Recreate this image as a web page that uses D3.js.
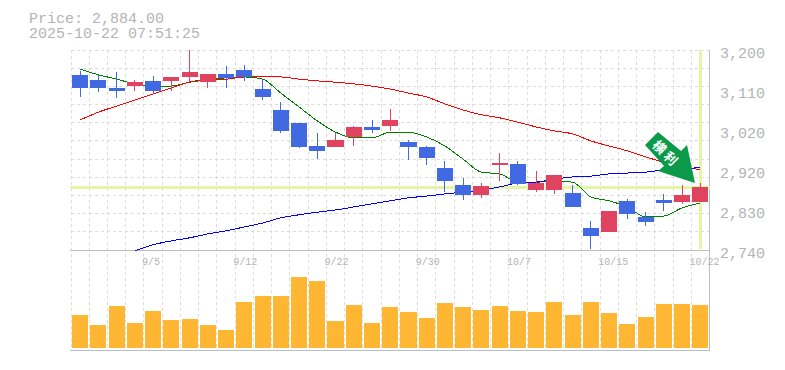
<!DOCTYPE html>
<html>
<head>
<meta charset="utf-8">
<script src="https://cdn.jsdelivr.net/npm/d3@7"></script>
<style>
  html, body { margin: 0; padding: 0; background: #fff; }
  svg { display: block; }
  text { font-family: "Liberation Mono", monospace; fill: #b4b4b4; }
</style>
</head>
<body>
<svg id="chart"></svg>
<script>
const dates = ["9/1","9/2","9/3","9/4","9/5","9/8","9/9","9/10","9/11","9/12","9/16","9/17","9/18","9/19","9/22","9/24","9/25","9/26","9/29","9/30","10/1","10/2","10/3","10/6","10/7","10/8","10/9","10/10","10/14","10/15","10/16","10/17","10/20","10/21","10/22"];
const priceTicks = [3200,3110,3020,2920,2830,2740];

const open  = [3143,3131,3113,3117,3129,3129,3138,3126,3145,3154,3110,3062,3032,2979,2977,3000,3023,3025,2988,2977,2929,2890,2867,2936,2938,2878,2878,2871,2791,2781,2853,2816,2855,2850,2850];
const close = [3113,3113,3106,3126,3106,3138,3149,3145,3136,3138,3092,3014,2977,2968,2994,3023,3016,3039,2977,2952,2899,2867,2887,2940,2892,2894,2913,2839,2772,2830,2823,2804,2848,2867,2884];
const high  = [3152,3143,3149,3131,3140,3138,3200,3145,3163,3166,3131,3080,3032,3009,3009,3025,3039,3064,2993,2979,2945,2906,2894,2963,2945,2922,2913,2890,2807,2830,2857,2827,2869,2890,2894];
const low   = [3092,3103,3090,3106,3101,3106,3126,3113,3113,3129,3085,3009,2975,2949,2977,2979,3009,3014,2947,2936,2873,2855,2860,2899,2890,2873,2869,2839,2742,2781,2811,2795,2830,2846,2850];

const maShort = [3156,3143,3133,3122,3117,3117,3126,3131,3136,3138,3133,3101,3069,3037,3011,2998,2998,3011,3011,3000,2979,2949,2919,2915,2896,2896,2899,2896,2862,2853,2839,2816,2818,2837,2848];
const maMid   = [3039,3057,3071,3085,3099,3113,3126,3133,3133,3138,3138,3138,3133,3129,3126,3122,3117,3110,3101,3092,3076,3062,3051,3044,3034,3023,3014,3007,2991,2979,2968,2954,2942,2933,2924];
const maLong  = [null,null,null,2738,2752,2761,2768,2777,2784,2793,2802,2814,2821,2827,2832,2839,2846,2853,2860,2864,2869,2873,2878,2885,2894,2896,2903,2908,2910,2915,2917,2919,2924,2926,2930];

const volume = [33,23,42,25,37,28,29,23,18,46,52,52,71,67,27,43,25,41,36,30,45,41,38,42,37,36,46,33,46,35,24,31,44,44,43];

const lastPrice = 2884;
const headerLines = ["Price: 2,884.00","2025-10-22 07:51:25"];

const WIDTH = 785, HEIGHT = 370;
const LEFT = 71, RIGHT = 709.5, TOP = 50, PRICE_BOTTOM = 250, VOL_BOTTOM = 348, AXIS_BOTTOM = 350;

const svg = d3.select("#chart").attr("width", WIDTH).attr("height", HEIGHT);

const x = d3.scaleBand().domain(d3.range(dates.length)).range([LEFT, RIGHT]).paddingInner(0.12).paddingOuter(0.06);
const xc = (i) => x(i) + x.bandwidth() / 2;
const y = d3.scaleLinear().domain([2740, 3200]).range([PRICE_BOTTOM, TOP]);
const yVol = d3.scaleLinear().domain([0, d3.max(volume)]).range([VOL_BOTTOM, VOL_BOTTOM - 71]);
// tick labels are rounded and evenly spaced on the axis
const yTick = d3.scalePoint().domain(priceTicks).range([TOP, PRICE_BOTTOM]);

// dashed grid, vertical lines sit between the candles
const grid = svg.append("g").attr("stroke", "#dcdcdc").attr("stroke-dasharray", "3,3").attr("shape-rendering", "crispEdges");
grid.selectAll(".v").data(d3.range(dates.length)).join("line")
  .attr("x1", (i) => xc(i) - x.step() / 2).attr("x2", (i) => xc(i) - x.step() / 2)
  .attr("y1", TOP).attr("y2", AXIS_BOTTOM);
grid.selectAll(".h").data(d3.range(12)).join("line")
  .attr("x1", LEFT).attr("x2", RIGHT)
  .attr("y1", (i) => TOP + i * (PRICE_BOTTOM - TOP) / 11)
  .attr("y2", (i) => TOP + i * (PRICE_BOTTOM - TOP) / 11);

// volume
svg.append("g").selectAll("rect").data(volume).join("rect")
  .attr("x", (d, i) => x(i)).attr("width", x.bandwidth())
  .attr("y", (d) => yVol(d)).attr("height", (d) => VOL_BOTTOM - yVol(d))
  .attr("fill", "#ffb733").attr("shape-rendering", "crispEdges");

// frame
const frame = svg.append("g").attr("stroke", "#bdbdbd").attr("shape-rendering", "crispEdges");
frame.append("line").attr("x1", LEFT - 1).attr("x2", RIGHT).attr("y1", PRICE_BOTTOM + 0.5).attr("y2", PRICE_BOTTOM + 0.5);
frame.append("line").attr("x1", LEFT - 1).attr("x2", RIGHT).attr("y1", AXIS_BOTTOM + 0.5).attr("y2", AXIS_BOTTOM + 0.5);
frame.append("line").attr("x1", RIGHT).attr("x2", RIGHT).attr("y1", TOP).attr("y2", AXIS_BOTTOM + 1);

// crosshair on the last candle
const cross = svg.append("g").attr("stroke", "#e4f5a6").attr("stroke-width", 3).attr("shape-rendering", "crispEdges");
cross.append("line").attr("x1", LEFT - 1).attr("x2", RIGHT).attr("y1", y(lastPrice)).attr("y2", y(lastPrice));
cross.append("line").attr("x1", xc(34)).attr("x2", xc(34)).attr("y1", TOP).attr("y2", PRICE_BOTTOM - 1);

// moving averages
const maLine = d3.line().defined((d) => d !== null).x((d, i) => xc(i)).y((d) => y(d)).curve(d3.curveMonotoneX);
[[maShort, "#008000"], [maMid, "#ff0000"], [maLong, "#0000ff"]].forEach(([values, color]) => {
  svg.append("path").attr("d", maLine(values)).attr("fill", "none").attr("stroke", color)
    .attr("stroke-width", 1).attr("shape-rendering", "crispEdges");
});

// candles
const candleColor = (i) => (close[i] >= open[i] ? "#e0435f" : "#4169e1");
const candles = svg.append("g").attr("shape-rendering", "crispEdges");
candles.selectAll("line").data(d3.range(dates.length)).join("line")
  .attr("x1", xc).attr("x2", xc)
  .attr("y1", (i) => y(high[i])).attr("y2", (i) => y(low[i]))
  .attr("stroke", candleColor);
candles.selectAll("rect").data(d3.range(dates.length)).join("rect")
  .attr("x", (i) => x(i)).attr("width", x.bandwidth())
  .attr("y", (i) => y(Math.max(open[i], close[i])))
  .attr("height", (i) => Math.abs(y(open[i]) - y(close[i])))
  .attr("fill", candleColor);

// signal arrow
svg.append("path")
  .attr("d", "M658,132 L645,145 L664,166 L658,171 L695,183 L687,145 L681,151 Z")
  .attr("fill", "#0a9a4a");
svg.append("text").attr("transform", "translate(666,154) rotate(45)")
  .attr("text-anchor", "middle").attr("dy", "0.35em")
  .style("font-family", "'Noto Sans CJK JP'").style("font-size", "13px").style("font-weight", 700)
  .style("letter-spacing", "3px").style("fill", "#fff")
  .text("横利");

// axis labels
svg.selectAll(".price").data(priceTicks).join("text")
  .attr("x", 720).attr("y", (d) => yTick(d) + 7.5)
  .style("font-size", "15px")
  .text((d) => d3.format(",")(d));

svg.selectAll(".date").data(d3.range(4, dates.length, 5)).join("text")
  .attr("x", (i) => xc(i) - 11).attr("y", 265)
  .style("font-size", "10px")
  .text((i) => dates[i]);

svg.selectAll(".head").data(headerLines).join("text")
  .attr("x", 29).attr("y", (d, i) => 23 + i * 15)
  .style("font-size", "15px")
  .text((d) => d);
</script>
</body>
</html>
